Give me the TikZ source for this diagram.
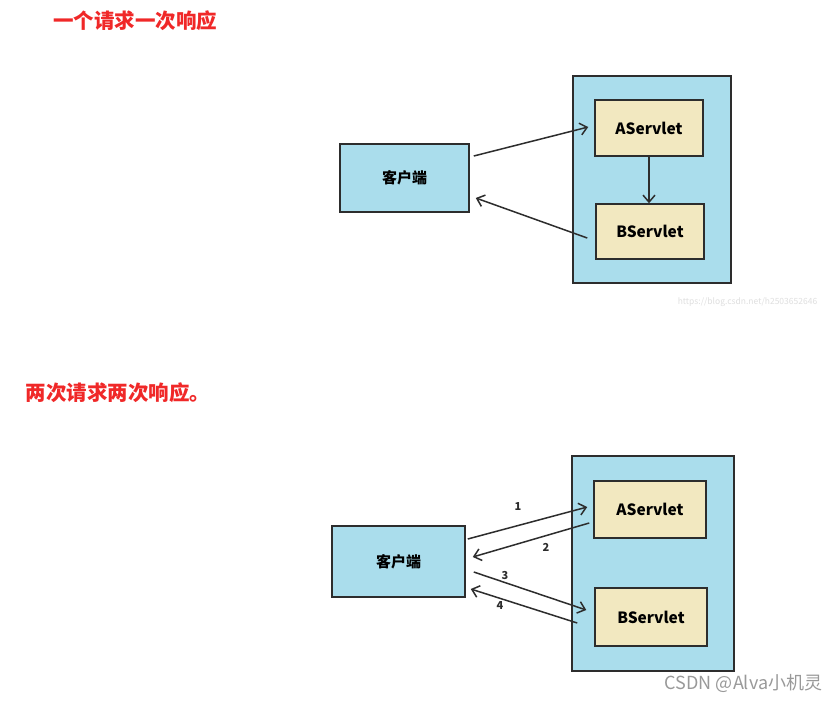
\documentclass[tikz,border=0pt]{standalone}
\usepackage{fontspec}
\setmainfont{Noto Sans CJK SC}
\usepackage{tikz}
\usetikzlibrary{arrows.meta,positioning,calc}
\definecolor{boxblue}{RGB}{170,221,236}
\definecolor{servbeige}{RGB}{242,232,192}
\definecolor{titlered}{RGB}{240,40,40}
\definecolor{edge}{RGB}{45,45,45}

\begin{document}
\begin{tikzpicture}[x=1pt, y=-1pt, >={Straight Barb[length=7pt, width=12pt]},
    font=\bfseries,
    title/.style={text=titlered, font=\fontsize{20.5}{22}\selectfont\bfseries},
    client/.style={draw=edge, line width=1.5pt, fill=boxblue, font=\fontsize{15}{16}\selectfont\bfseries},
    outer/.style={draw=edge, line width=1.6pt, fill=boxblue},
    servlet/.style={draw=edge, line width=1.5pt, fill=servbeige, font=\fontsize{15.5}{16}\selectfont\bfseries},
    conn/.style={->, line width=1.5pt, draw=edge},
    num/.style={font=\fontsize{11}{12}\selectfont\bfseries, text=edge}]
    \fill[white] (0,0) rectangle (837,701);
    \useasboundingbox (0,0) rectangle (837,701);

    % One request, one response
    \node[title] (t1) at (135,21) {一个请求一次响应};
    \node[client, minimum width=129pt, minimum height=68pt] (client1) at (404.5,178) {客户端};
    \node[outer, minimum width=158pt, minimum height=207pt] (outer1) at (652,179.5) {};
    \node[servlet, minimum width=108pt, minimum height=56pt] (aserv1) at (649,128) {AServlet};
    \node[servlet, minimum width=108pt, minimum height=55pt] (bserv1) at (650,231.5) {BServlet};

    \draw[conn] ([shift={(4,-22)}]client1.east) -- ([shift={(-6,-1)}]aserv1.west);
    \draw[conn] (aserv1.south) -- (aserv1.south |- bserv1.north);
    \draw[conn] ([shift={(-8,6.5)}]bserv1.west) -- ([shift={(6,20)}]client1.east);

    \node[text=gray!25, font=\fontsize{8.5}{9}\selectfont] (url) at (747.5,302) {https://blog.csdn.net/h2503652646};

    % Two requests, two responses
    \node[title] (t2) at (118,393) {两次请求两次响应。};
    \node[client, minimum width=133pt, minimum height=71pt] (client2) at (398.5,561.5) {客户端};
    \node[outer, minimum width=162pt, minimum height=215pt] (outer2) at (653,563.5) {};
    \node[servlet, minimum width=112pt, minimum height=57pt] (aserv2) at (650,509.5) {AServlet};
    \node[servlet, minimum width=112pt, minimum height=58pt] (bserv2) at (651,617) {BServlet};

    \draw[conn] ([shift={(2,-22.5)}]client2.east) -- ([shift={(-6,-2.5)}]aserv2.west);
    \draw[conn] ([shift={(-4,13.5)}]aserv2.west) -- ([shift={(7,-4.5)}]client2.east);
    \draw[conn] ([shift={(8,10.5)}]client2.east) -- ([shift={(-8,-7)}]bserv2.west);
    \draw[conn] ([shift={(-17,6)}]bserv2.west) -- ([shift={(5,27.5)}]client2.east);

    \node[num] (n1) at (518,507) {1};
    \node[num] (n2) at (546,547) {2};
    \node[num] (n3) at (505,575) {3};
    \node[num] (n4) at (500,605) {4};

    \node[text=gray!80, font=\fontsize{18}{19}\selectfont] (mark) at (743.5,683) {CSDN @Alva小机灵};
\end{tikzpicture}
\end{document}
